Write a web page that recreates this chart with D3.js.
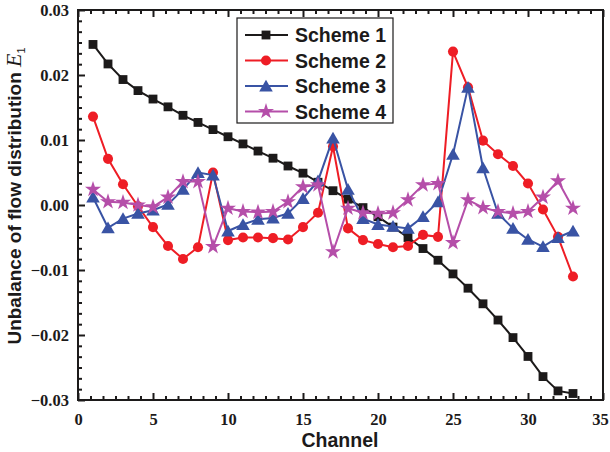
<!DOCTYPE html>
<html>
<head>
<meta charset="utf-8">
<script src="https://cdn.jsdelivr.net/npm/d3@7"></script>
<style>
  html, body { margin: 0; padding: 0; background: #fff; }
  svg { display: block; }
</style>
</head>
<body>
<svg id="chart" width="610" height="452"></svg>
<script>
// Channel index and flow-distribution unbalance E1 for four manifold schemes
const channels = d3.range(1, 34);
const scheme1 = [0.0247, 0.0217, 0.0193, 0.0176, 0.0163, 0.0151, 0.0138, 0.0127, 0.0116, 0.0105,
                 0.0094, 0.0083, 0.0072, 0.0060, 0.0049, 0.0035, 0.0022, 0.0009, -0.0004, -0.0018,
                 -0.0034, -0.0050, -0.0067, -0.0085, -0.0106, -0.0128, -0.0152, -0.0177, -0.0204, -0.0233,
                 -0.0264, -0.0286, -0.0290];
const scheme2 = [0.0136, 0.0071, 0.0032, -0.0002, -0.0034, -0.0063, -0.0083, -0.0065, 0.0050, -0.0054,
                 -0.0050, -0.0050, -0.0051, -0.0053, -0.0034, -0.0012, 0.0090, -0.0036, -0.0054, -0.0060,
                 -0.0065, -0.0063, -0.0046, -0.0049, 0.0236, 0.0181, 0.0099, 0.0078, 0.0060, 0.0033,
                 -0.0007, -0.0049, -0.0110];
const scheme3 = [0.0012, -0.0035, -0.0021, -0.0013, -0.0008, 0.0001, 0.0024, 0.0050, 0.0046, -0.0040,
                 -0.0030, -0.0022, -0.0020, -0.0013, 0.0010, 0.0037, 0.0103, 0.0024, -0.0021, -0.0030,
                 -0.0033, -0.0036, -0.0018, 0.0005, 0.0078, 0.0181, 0.0057, -0.0013, -0.0036, -0.0053,
                 -0.0064, -0.0050, -0.0040];
const scheme4 = [0.0024, 0.0005, 0.0004, 0.0000, -0.0003, 0.0012, 0.0036, 0.0036, -0.0064, -0.0005,
                 -0.0010, -0.0011, -0.0010, 0.0005, 0.0028, 0.0031, -0.0072, -0.0005, -0.0012, -0.0013,
                 -0.0012, 0.0008, 0.0031, 0.0033, -0.0058, 0.0008, -0.0004, -0.0010, -0.0013, -0.0010,
                 0.0012, 0.0037, -0.0005];
const seriesNames = ["Scheme 1", "Scheme 2", "Scheme 3", "Scheme 4"];
const xTicks = [0, 5, 10, 15, 20, 25, 30, 35];
const yTicks = [-0.03, -0.02, -0.01, 0.00, 0.01, 0.02, 0.03];

const colors = ["#1c1a1a", "#ee1d25", "#3953a4", "#b54ea9"];
const symbols = [d3.symbolSquare, d3.symbolCircle, d3.symbolTriangle, d3.symbolStar];
const symSizes = [78, 80, 80, 80];
const allSeries = [scheme1, scheme2, scheme3, scheme4];

const svg = d3.select("#chart");
const plotL = 78, plotR = 603, plotT = 10, plotB = 400;

const x = d3.scaleLinear().domain([0, 35]).range([plotL, plotR]);
const y = d3.scaleLinear().domain([-0.03, 0.03]).range([plotB, plotT]);

// frame
svg.append("rect")
  .attr("x", plotL).attr("y", plotT)
  .attr("width", plotR - plotL).attr("height", plotB - plotT)
  .attr("fill", "none").attr("stroke", "#1c1a1a").attr("stroke-width", 2);

// minor tick positions: five between each pair of majors
const xMinor = [];
for (let i = 0; i < xTicks.length - 1; i++)
  for (let k = 1; k < 6; k++) xMinor.push(xTicks[i] + k * (xTicks[i + 1] - xTicks[i]) / 6);
const yMinor = [];
for (let i = 0; i < yTicks.length - 1; i++)
  for (let k = 1; k < 6; k++) yMinor.push(yTicks[i] + k * (yTicks[i + 1] - yTicks[i]) / 6);

const tickFont = "'Liberation Serif', 'Times New Roman', serif";

// bottom axis (ticks pointing inward)
const xAxisB = svg.append("g").attr("transform", `translate(0,${plotB})`)
  .call(d3.axisBottom(x).tickValues(xTicks).tickSizeInner(-7).tickSizeOuter(0).tickPadding(13)
        .tickFormat(d3.format("d")));
xAxisB.append("g").call(d3.axisBottom(x).tickValues(xMinor).tickSizeInner(-4).tickSizeOuter(0).tickFormat(""));
// keep the last label inside the page edge
xAxisB.selectAll(".tick text").filter(d => d === 35).attr("dx", -3);
// top axis ticks
const xAxisT = svg.append("g").attr("transform", `translate(0,${plotT})`)
  .call(d3.axisTop(x).tickValues(xTicks).tickSizeInner(-7).tickSizeOuter(0).tickFormat(""));
xAxisT.append("g").call(d3.axisTop(x).tickValues(xMinor).tickSizeInner(-4).tickSizeOuter(0).tickFormat(""));

// left axis
const yAxisL = svg.append("g").attr("transform", `translate(${plotL},0)`)
  .call(d3.axisLeft(y).tickValues(yTicks).tickSizeInner(-7).tickSizeOuter(0).tickPadding(9)
        .tickFormat(d3.format(".2f")));
yAxisL.append("g").call(d3.axisLeft(y).tickValues(yMinor).tickSizeInner(-4).tickSizeOuter(0).tickFormat(""));

svg.selectAll(".domain").remove();
svg.selectAll(".tick line").attr("stroke", "#1c1a1a").attr("stroke-width", 2);
svg.selectAll(".tick text")
  .attr("fill", "#1c1a1a")
  .style("font-family", tickFont)
  .style("font-weight", "bold")
  .style("font-size", "16.5px");

// series lines and markers
const line = d3.line().x((d, i) => x(channels[i])).y(d => y(d));
allSeries.forEach((vals, s) => {
  const g = svg.append("g");
  g.append("path").datum(vals)
    .attr("d", line).attr("fill", "none")
    .attr("stroke", colors[s]).attr("stroke-width", 2);
  g.selectAll("path.mk").data(vals).join("path")
    .attr("class", "mk")
    .attr("transform", (d, i) => `translate(${x(channels[i])},${y(d) + (s === 2 ? 1.5 : 0)})`)
    .attr("d", d3.symbol().type(symbols[s]).size(symSizes[s]))
    .attr("fill", colors[s]);
});

// legend
const lg = svg.append("g");
lg.append("rect").attr("x", 237).attr("y", 18).attr("width", 156).attr("height", 105)
  .attr("fill", "#fff").attr("stroke", "#1c1a1a").attr("stroke-width", 1.2);
seriesNames.forEach((name, s) => {
  const cy = 35 + s * 25.5;
  lg.append("line").attr("x1", 245).attr("x2", 288).attr("y1", cy).attr("y2", cy)
    .attr("stroke", colors[s]).attr("stroke-width", 2);
  lg.append("path")
    .attr("transform", `translate(266,${cy + (s === 2 ? 1.5 : 0)})`)
    .attr("d", d3.symbol().type(symbols[s]).size(symSizes[s]))
    .attr("fill", colors[s]);
  lg.append("text").attr("x", 295).attr("y", cy + 7)
    .attr("fill", "#1c1a1a")
    .style("font-family", "'Liberation Sans', Arial, sans-serif")
    .style("font-weight", "bold").style("font-size", "19.5px")
    .text(name);
});

// axis titles
svg.append("text")
  .attr("x", 340).attr("y", 447)
  .attr("text-anchor", "middle")
  .attr("fill", "#1c1a1a")
  .style("font-family", "'Liberation Sans', Arial, sans-serif")
  .style("font-weight", "bold").style("font-size", "19.5px")
  .text("Channel");

const yt = svg.append("text")
  .attr("transform", "translate(21,196) rotate(-90)")
  .attr("text-anchor", "middle")
  .attr("fill", "#1c1a1a")
  .style("font-family", "'Liberation Sans', Arial, sans-serif")
  .style("font-weight", "bold").style("font-size", "19px");
yt.append("tspan").text("Unbalance of flow distribution ");
yt.append("tspan").style("font-family", tickFont).style("font-style", "italic")
  .style("font-weight", "normal").style("font-size", "22px").text("E");
yt.append("tspan").attr("dy", 4).style("font-size", "11px").style("font-weight", "normal")
  .style("font-family", "'Liberation Sans', Arial, sans-serif").text("1");
</script>
</body>
</html>
